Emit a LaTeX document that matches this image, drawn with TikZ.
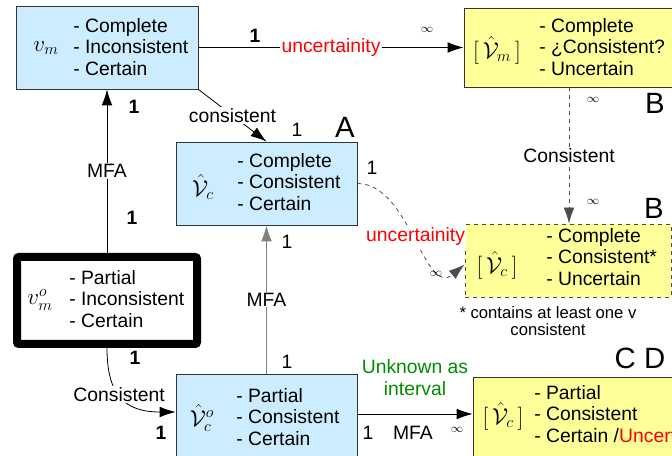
\documentclass[tikz,border=0pt]{standalone}
\usepackage{amsmath}
\usepackage{amssymb}
\usepackage{fontspec}
\setmainfont{Liberation Sans}
\usetikzlibrary{arrows.meta}
\definecolor{boxblue}{RGB}{204,236,255}
\definecolor{boxyellow}{RGB}{255,255,153}
\definecolor{ugreen}{RGB}{0,140,0}

\begin{document}
\begin{tikzpicture}[x=0.75pt,y=-0.75pt,
    box/.style={draw=black!80,line width=0.6pt,inner sep=0pt},
    bluebox/.style={box,fill=boxblue},
    yellowbox/.style={box,fill=boxyellow},
    items/.style={anchor=west,align=left,inner sep=0pt,font=\fontsize{14.5}{16.1}\selectfont},
    sym/.style={inner sep=0pt,font=\fontsize{18}{20}\selectfont},
    conn/.style={line width=0.6pt,-{Latex[length=12pt,width=8pt]}},
    lab/.style={fill=white,inner sep=1pt,font=\fontsize{14.5}{16}\selectfont},
    mult/.style={inner sep=0pt,font=\fontsize{14.5}{16}\selectfont},
    multb/.style={mult,font=\fontsize{14.5}{16}\selectfont\bfseries},
    inf/.style={inner sep=0pt,font=\fontsize{9}{10}\selectfont},
    tag/.style={inner sep=0pt,font=\fontsize{22}{24}\selectfont}]
  \useasboundingbox (0,0) rectangle (672,456);
  \clip (0,0) rectangle (672,456);

  % boxes
  \node[bluebox,minimum width=136.5pt,minimum height=62.25pt] (vm) at (107,47.5) {};
  \node[yellowbox,minimum width=157.5pt,minimum height=59.25pt] (vhm) at (569,47.5) {};
  \node[bluebox,minimum width=135.75pt,minimum height=62.25pt] (vc) at (266.5,183.5) {};
  \node[yellowbox,dashed,draw=black!70,minimum width=154.5pt,minimum height=54.75pt] (vhc) at (568,260.5) {};
  \node[box,draw=black,fill=white,line width=6pt,rounded corners=1.5pt,minimum width=135pt,minimum height=65.25pt] (vmo) at (107,300.5) {};
  \node[bluebox,minimum width=135.75pt,minimum height=66pt] (vco) at (266.5,418) {};
  \node[yellowbox,minimum width=162.75pt,minimum height=63.75pt] (vhco) at (581.5,419.5) {};

  % box contents
  \node[sym] (vm-sym) at (46,48) {$v_m$};
  \node[items] (vm-items) at (73,47) {- Complete\\- Inconsistent\\- Certain};
  \node[sym] (vhm-sym) at (497,50) {$[\,\hat{\mathcal{V}}_m\,]$};
  \node[items] (vhm-items) at (539,47) {- Complete\\- ¿Consistent?\\- Uncertain};
  \node[sym] (vc-sym) at (203,187) {$\hat{\mathcal{V}}_c$};
  \node[items] (vc-items) at (237,182) {- Complete\\- Consistent\\- Certain};
  \node[sym] (vhc-sym) at (497,265) {$[\,\hat{\mathcal{V}}_c\,]$};
  \node[items] (vhc-items) at (546,257) {- Complete\\- Consistent*\\- Uncertain};
  \node[sym] (vmo-sym) at (40,300) {$v_m^o$};
  \node[items] (vmo-items) at (69,299) {- Partial\\- Inconsistent\\- Certain};
  \node[sym] (vco-sym) at (202,418) {$\hat{\mathcal{V}}_c^o$};
  \node[items] (vco-items) at (236,417) {- Partial\\- Consistent\\- Certain};
  \node[sym] (vhco-sym) at (503,416) {$[\,\hat{\mathcal{V}}_c\,]$};
  \node[items] (vhco-items) at (534,414) {- Partial\\- Consistent\\- Certain /\textcolor{red}{Uncertain}};

  % connectors
  \draw[conn] (vm.east) -- node[lab,text=red] (unc-top) {uncertainity} (vhm.west);
  \draw[conn] (vm.south east) -- node[lab] (cons-vc) {consistent} (vc.north);
  \draw[conn] (vmo.north) -- node[lab] (mfa-vm) {MFA} (vm.south);
  \draw[conn,draw=black!50] (vco.north) -- node[lab] (mfa-vc) {MFA} (vc.south);
  \draw[conn] (vmo.south) .. controls +(0,47) and +(-51,0) .. node[lab,pos=0.45] (cons-vco) {Consistent} ([yshift=4.5pt]vco.west);
  \draw[conn,dashed,draw=black!70] (vc.east) to[out=0,in=-140] node[lab,text=red] (unc-mid) {uncertainity} ([yshift=-3pt]vhc.west);
  \draw[conn,dashed,draw=black!70] (vhm.south) -- node[lab] (cons-vhc) {Consistent} (vhm.south |- vhc.north);
  \draw[conn] ([yshift=3pt]vco.east) -- ([yshift=3pt]vco.east -| vhco.west);

  % multiplicities and notes
  \node[multb] (m1) at (255,36) {1};
  \node[inf] (i1) at (427,30) {$\infty$};
  \node[multb] (m2) at (134,107) {1};
  \node[multb] (m3) at (132,218) {1};
  \node[mult] (m4) at (297,130) {1};
  \node[mult] (m5) at (372,168) {1};
  \node[inf] (i2) at (436,274) {$\infty$};
  \node[inf] (i3) at (593,100) {$\infty$};
  \node[inf] (i4) at (593,202) {$\infty$};
  \node[mult] (m6) at (287,242) {1};
  \node[mult] (m7) at (287,362) {1};
  \node[multb] (m8) at (135,358) {1};
  \node[multb] (m9) at (161,433) {1};
  \node[mult] (m10) at (368,433) {1};
  \node[mult] (mfa-bot) at (413,433) {MFA};
  \node[inf] (i5) at (457,430) {$\infty$};
  \node[align=center,text=ugreen,inner sep=0pt,font=\fontsize{14.5}{16.5}\selectfont] (unknown) at (415,378) {Unknown as\\interval};
  \node[align=center,inner sep=0pt,font=\fontsize{12.5}{13}\selectfont] (note) at (548,321) {* contains at least one v\\consistent};
  \node[tag] (tagA) at (345,127) {A};
  \node[tag] (tagB1) at (655,103) {B};
  \node[tag] (tagB2) at (654,208) {B};
  \node[tag] (tagCD) at (640,358) {C D};
\end{tikzpicture}
\end{document}
